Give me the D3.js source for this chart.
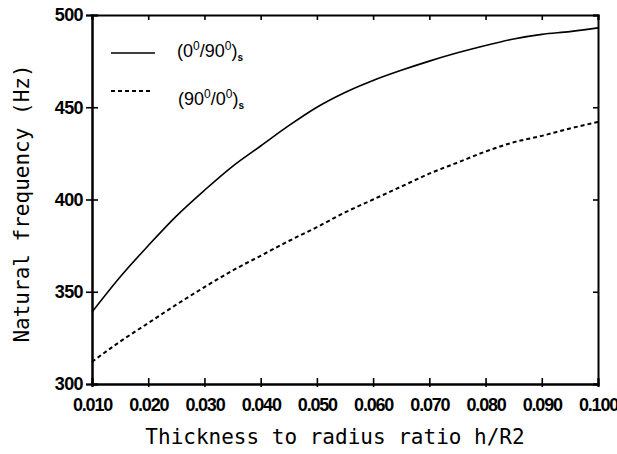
<!DOCTYPE html>
<html>
<head>
<meta charset="utf-8">
<script src="https://cdn.jsdelivr.net/npm/d3@7"></script>
<style>
  html, body { margin: 0; padding: 0; background: #fff; }
  svg { display: block; }
  .tick text { font-family: "Liberation Sans", Arial, sans-serif; font-weight: bold; fill: #000; }
  .title { font-family: "DejaVu Sans Mono", "Liberation Mono", monospace; fill: #000; }
  .legend { font-family: "Liberation Sans", Arial, sans-serif; fill: #000; }
</style>
</head>
<body>
<script>
// ---- data ----
const thickness = [0.010, 0.015, 0.020, 0.025, 0.030, 0.035, 0.040, 0.045, 0.050, 0.055,
                   0.060, 0.065, 0.070, 0.075, 0.080, 0.085, 0.090, 0.095, 0.100];
const freq_0_90 = [339, 358, 375, 391, 405, 418, 429, 440, 450, 458,
                   464.5, 470, 475, 479.5, 483.5, 487, 489.5, 491, 493];
const freq_90_0 = [312, 323, 333, 343, 352.5, 361.5, 369.5, 377.5, 385, 393,
                   400, 407, 414, 420, 426, 431, 434.5, 438.5, 442];
const xTicks = [0.010, 0.020, 0.030, 0.040, 0.050, 0.060, 0.070, 0.080, 0.090, 0.100];
const yTicks = [300, 350, 400, 450, 500];
const xTitle = "Thickness to radius ratio h/R2";
const yTitle = "Natural frequency (Hz)";

// ---- layout ----
const W = 617, H = 454;
const L = 92, R = 598, T = 15, B = 384;

const svg = d3.select("body").append("svg").attr("width", W).attr("height", H);

const x = d3.scaleLinear().domain([0.010, 0.100]).range([L, R]);
const y = d3.scaleLinear().domain([300, 500]).range([B, T]);

function styleAxis(g) {
  g.select(".domain").attr("stroke", "#000").attr("stroke-width", 2);
  g.selectAll(".tick line").attr("stroke", "#000").attr("stroke-width", 1.6);
}

// bottom: labels + short downward ticks
const gB = svg.append("g").attr("transform", `translate(0,${B})`)
  .call(d3.axisBottom(x).tickValues(xTicks).tickSize(3).tickPadding(11).tickFormat(d3.format(".3f")));
gB.selectAll(".tick text").attr("font-size", 18).attr("letter-spacing", "-1.2px");
styleAxis(gB);
const gB2 = svg.append("g").attr("transform", `translate(0,${B})`)
  .call(d3.axisBottom(x).tickValues(xTicks).tickSize(-6).tickFormat(""));
styleAxis(gB2);

// top: inward ticks
const gT = svg.append("g").attr("transform", `translate(0,${T})`)
  .call(d3.axisTop(x).tickValues(xTicks).tickSize(-5).tickFormat(""));
styleAxis(gT);

// left: labels + crossing ticks
const gL = svg.append("g").attr("transform", `translate(${L},0)`)
  .call(d3.axisLeft(y).tickValues(yTicks).tickSize(6).tickPadding(3));
gL.selectAll(".tick text").attr("font-size", 18).attr("letter-spacing", "-0.6px");
styleAxis(gL);
const gL2 = svg.append("g").attr("transform", `translate(${L},0)`)
  .call(d3.axisLeft(y).tickValues(yTicks).tickSize(-6).tickFormat(""));
styleAxis(gL2);

// right: inward ticks
const gR = svg.append("g").attr("transform", `translate(${R},0)`)
  .call(d3.axisRight(y).tickValues(yTicks).tickSize(-5).tickFormat(""));
styleAxis(gR);

// ---- curves ----
const line = d3.line().curve(d3.curveMonotoneX)
  .x((d, i) => x(thickness[i])).y(d => y(d));

svg.append("path").datum(freq_0_90)
  .attr("fill", "none").attr("stroke", "#000").attr("stroke-width", 1.6)
  .attr("d", line);

svg.append("path").datum(freq_90_0)
  .attr("fill", "none").attr("stroke", "#000").attr("stroke-width", 2)
  .attr("stroke-dasharray", "4,3")
  .attr("d", line);

// ---- legend ----
svg.append("line").attr("x1", 111).attr("x2", 155).attr("y1", 53).attr("y2", 53)
  .attr("stroke", "#000").attr("stroke-width", 1.6);
svg.append("line").attr("x1", 111).attr("x2", 153).attr("y1", 91).attr("y2", 91)
  .attr("stroke", "#000").attr("stroke-width", 1.8).attr("stroke-dasharray", "4,3");

function legendLabel(xp, yp, a, b) {
  const t = svg.append("text").attr("class", "legend").attr("x", xp).attr("y", yp).attr("font-size", 18);
  t.append("tspan").text("(" + a);
  t.append("tspan").attr("font-size", 12).attr("dy", -7).text("0");
  t.append("tspan").attr("dy", 7).text("/" + b);
  t.append("tspan").attr("font-size", 12).attr("dy", -7).text("0");
  t.append("tspan").attr("dy", 7).text(")");
  t.append("tspan").attr("font-size", 10).attr("font-weight", "bold").attr("dy", 4).text("s");
}
legendLabel(177, 57, "0", "90");
legendLabel(178, 105, "90", "0");

// ---- axis titles ----
svg.append("text").attr("class", "title")
  .attr("x", (L + R) / 2 - 10).attr("y", 444)
  .attr("text-anchor", "middle").attr("font-size", 21)
  .text(xTitle);

svg.append("text").attr("class", "title")
  .attr("transform", `translate(29,${(T + B) / 2 + 4}) rotate(-90)`)
  .attr("text-anchor", "middle").attr("font-size", 21)
  .text(yTitle);
</script>
</body>
</html>
